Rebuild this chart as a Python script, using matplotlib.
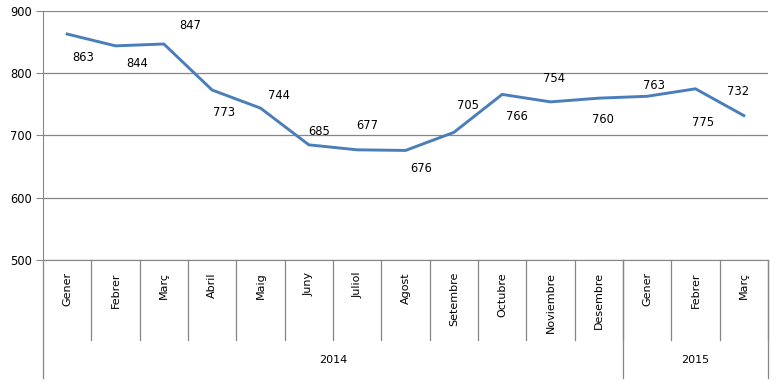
import matplotlib
matplotlib.use("Agg")
import matplotlib.pyplot as plt

months = ["Gener", "Febrer", "Març", "Abril", "Maig", "Juny", "Juliol", "Agost",
          "Setembre", "Octubre", "Noviembre", "Desembre", "Gener", "Febrer", "Març"]
values = [863, 844, 847, 773, 744, 685, 677, 676, 705, 766, 754, 760, 763, 775, 732]
years = ["2014", "2015"]
year_counts = [12, 3]
# data label offsets in pixels (dx right, dy down)
label_dx = [16, 22, 26, 12, 18, 10, 10, 16, 14, 15, 4, 4, 7, 8, -6]
label_dy = [23, 18, -18, 22, -13, -13, -24, 18, -27, 22, -23, 21, -11, 34, -24]

grid_col = "#868686"
line_col = "#4a7ebb"

fig = plt.figure(figsize=(7.79, 3.82), dpi=100)
ax = fig.add_axes([43 / 779, 1 - 260 / 382, 725 / 779, 249 / 382])

xs = list(range(len(values)))
ax.plot(xs, values, color=line_col, lw=2.1, solid_joinstyle="miter")

for x, v, dx, dy in zip(xs, values, label_dx, label_dy):
    ax.annotate(str(v), (x, v), xytext=(dx, -dy), textcoords="offset pixels",
                ha="center", va="center", fontsize=8.3)

ax.set_xlim(-0.5, len(values) - 0.5)
ax.set_ylim(500, 900)
ax.set_yticks([500, 600, 700, 800, 900])
ax.yaxis.grid(True, color=grid_col, lw=0.9)
ax.set_axisbelow(True)
ax.tick_params(axis="y", labelsize=8.3, length=5, color=grid_col, pad=3)
ax.set_xticks([])
for side in ["top", "right"]:
    ax.spines[side].set_visible(False)
ax.spines["left"].set_color(grid_col)
ax.spines["bottom"].set_color(grid_col)

# multi-level category axis
trans = ax.get_xaxis_transform()
short_y = -80 / 249
long_y = -118 / 249
ax.plot([-0.5, -0.5], [0, long_y], transform=trans, color=grid_col, lw=0.9, clip_on=False)
for i in range(1, len(values) + 1):
    ax.plot([i - 0.5, i - 0.5], [0, short_y], transform=trans, color=grid_col, lw=0.9, clip_on=False)
for i, m in enumerate(months):
    ax.text(i, -12 / 249, m, transform=trans, rotation=90, ha="center", va="top", fontsize=8)

start = 0
for yr, n in zip(years, year_counts):
    end = start + n
    ax.plot([end - 0.5, end - 0.5], [0, long_y], transform=trans, color=grid_col, lw=0.9, clip_on=False)
    ax.text((start + end - 1) / 2, -100 / 249, yr, transform=trans, ha="center", va="center", fontsize=8)
    start = end

fig.savefig("out.png", dpi=100)
